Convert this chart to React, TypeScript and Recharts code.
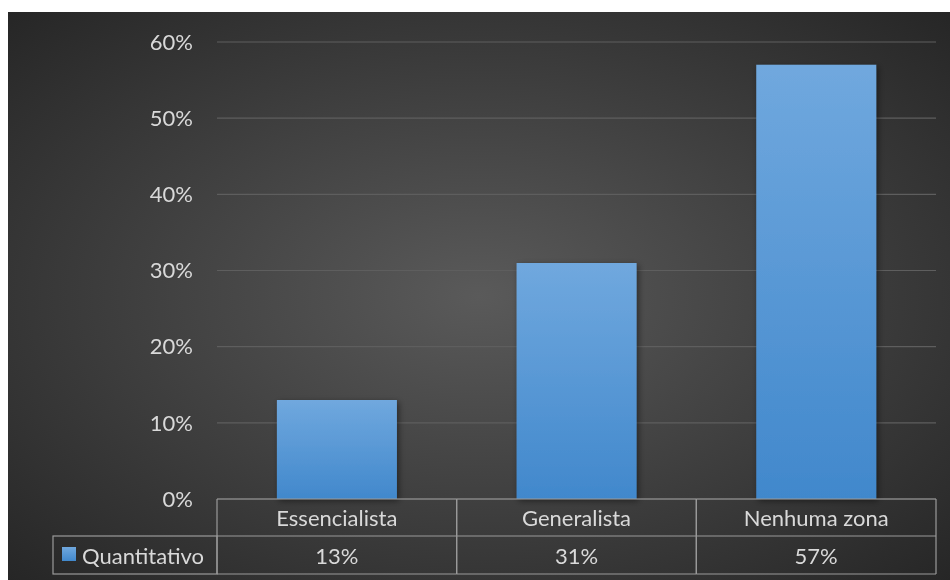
import React from 'react';
import { BarChart, Bar, XAxis, YAxis, CartesianGrid } from 'recharts';

const categories = ['Essencialista', 'Generalista', 'Nenhuma zona'];
const quantitativo = [0.13, 0.31, 0.57];
const seriesName = 'Quantitativo';
const yTicks = [0, 0.1, 0.2, 0.3, 0.4, 0.5, 0.6];

const data = categories.map((c, i) => ({ category: c, value: quantitativo[i] }));

const W = 942;
const H = 568;
const margin = { top: 30, right: 14, left: 0, bottom: 0 };
const yAxisWidth = 209;
const xAxisHeight = 81;
const plotWidth = W - margin.left - margin.right - yAxisWidth;
const band = plotWidth / categories.length;
const row1 = 37;
const row2 = 75;
const legendCellWidth = 164;
const textColor = '#d9d9d9';
const borderColor = '#9a9a9a';
const font = 'Lato, "Open Sans", sans-serif';
const fontSize = 22;

const pct = (v: number) => `${Math.round(v * 100)}%`;

function TableTick(props: any) {
  const { x, y, payload, index } = props;
  const half = band / 2;
  const l = x - half;
  const r = x + half;
  const lineProps = { stroke: borderColor, strokeWidth: 1.2 };
  return (
    <g>
      <line x1={l} x2={r} y1={y} y2={y} {...lineProps} />
      <line x1={l} x2={r} y1={y + row1} y2={y + row1} {...lineProps} />
      <line x1={l} x2={r} y1={y + row2} y2={y + row2} {...lineProps} />
      <line x1={l} x2={l} y1={y} y2={y + row2} {...lineProps} />
      <line x1={r} x2={r} y1={y} y2={y + row2} {...lineProps} />
      <text x={x} y={y + row1 / 2} textAnchor="middle" dominantBaseline="central" fill={textColor} fontSize={fontSize} fontFamily={font}>
        {payload.value}
      </text>
      <text x={x} y={y + (row1 + row2) / 2} textAnchor="middle" dominantBaseline="central" fill={textColor} fontSize={fontSize} fontFamily={font}>
        {pct(quantitativo[index])}
      </text>
      {index === 0 && (
        <g>
          <rect x={l - legendCellWidth} y={y + row1} width={legendCellWidth} height={row2 - row1} fill="none" {...lineProps} />
          <rect x={l - legendCellWidth + 9} y={y + row1 + 11} width={14} height={14} fill="url(#barGrad)" />
          <text x={l - legendCellWidth + 29} y={y + (row1 + row2) / 2} textAnchor="start" dominantBaseline="central" fill={textColor} fontSize={fontSize} fontFamily={font}>
            {seriesName}
          </text>
        </g>
      )}
    </g>
  );
}

export default function App() {
  return (
    <div
      style={{
        position: 'fixed',
        left: 8,
        top: 12,
        width: W,
        height: H,
        background: 'radial-gradient(ellipse farthest-corner at 50% 50%, #5a5a5a 0%, #262626 100%)',
      }}
    >
      <BarChart width={W} height={H} data={data} margin={margin} barCategoryGap="25%">
        <defs>
          <linearGradient id="barGrad" x1="0" y1="0" x2="0" y2="1">
            <stop offset="0%" stopColor="#70a8de" />
            <stop offset="100%" stopColor="#4188cc" />
          </linearGradient>
          <filter id="barShadow" x="-20%" y="-20%" width="140%" height="140%">
            <feDropShadow dx="2" dy="2" stdDeviation="3" floodColor="#000" floodOpacity="0.45" />
          </filter>
        </defs>
        <CartesianGrid horizontal vertical={false} stroke="#5e5e5e" strokeWidth={1.2} />
        <YAxis
          width={yAxisWidth}
          domain={[0, 0.6]}
          ticks={yTicks}
          tickFormatter={pct}
          axisLine={false}
          tickLine={false}
          tickSize={0}
          tickMargin={24}
          tick={{ fill: textColor, fontSize: fontSize, fontFamily: font }}
        />
        <XAxis
          dataKey="category"
          height={xAxisHeight}
          axisLine={false}
          tickLine={false}
          tickSize={0}
          tickMargin={0}
          interval={0}
          tick={<TableTick />}
        />
        <Bar dataKey="value" name={seriesName} fill="url(#barGrad)" filter="url(#barShadow)" isAnimationActive={false} />
      </BarChart>
    </div>
  );
}
